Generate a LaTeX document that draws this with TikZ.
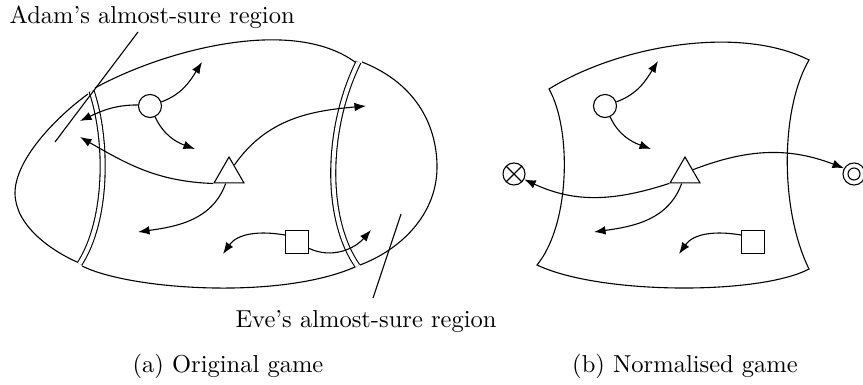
\documentclass[tikz,border=0pt]{standalone}
\usetikzlibrary{shapes.geometric,arrows.meta}
\begin{document}
\begin{tikzpicture}[x=0.408pt,y=0.408pt,
  line width=0.45pt,
  arr/.style={-{Latex[length=4.7pt,width=3.5pt]}},
  st/.style={draw,circle,minimum size=9.4pt,inner sep=0pt},
  tri/.style={draw,regular polygon,regular polygon sides=3,minimum size=14.1pt,inner sep=0pt},
  sq/.style={draw,rectangle,minimum size=9.4pt,inner sep=0pt},
  dbl/.style={double,double distance=1.6pt},
  lbl/.style={inner sep=0pt}]
\useasboundingbox (0,0) rectangle (863,-385);

% ---------- (a) original game ----------
\draw (88,-94) .. controls (55,-118) and (15,-160) .. (15,-193) .. controls (15,-225) and (50,-250) .. (77,-262);
\draw (95,-88) .. controls (160,-52) and (290,-15) .. (355,-62);
\draw (82,-266) .. controls (130,-290) and (280,-300) .. (355,-267);
\draw (362,-62) .. controls (420,-85) and (437,-130) .. (437,-167) .. controls (437,-215) and (400,-250) .. (360,-265);
\draw[dbl] (91.5,-91) .. controls (108,-140) and (108,-220) .. (79.5,-264);
\draw[dbl] (358.5,-62) .. controls (325,-130) and (325,-220) .. (357.5,-266);

\node[st] (c1) at (150,-106) {};
\node[tri] (t1) at (229,-174.3) {};
\node[sq] (s1) at (297,-242) {};

\coordinate (a1) at (202,-62);
\coordinate (a2) at (80,-121);
\coordinate (a3) at (195,-149);
\coordinate (a4) at (80,-137);
\coordinate (a5) at (366,-106);
\coordinate (a6) at (138,-232);
\coordinate (a7) at (223,-254);
\coordinate (a8) at (371,-230);

\draw[arr] (c1.20) to[out=20,in=238] (a1);
\draw[arr] (c1.175) to[out=180,in=25] (a2);
\draw[arr] (c1.-65) to[out=-65,in=160] (a3);
\draw[arr] (t1.corner 2) to[out=178,in=-30] (a4);
\draw[arr] (t1.60) to[out=55,in=185] (a5);
\draw[arr] (t1.-110) to[out=-110,in=8] (a6);
\draw[arr] (s1.150) to[out=170,in=55] (a7);
\draw[arr] (s1.-28) to[out=-25,in=229] (a8);

\coordinate (ad1) at (138,-32);
\coordinate (ad2) at (55,-142);
\draw (ad1) -- (ad2);
\coordinate (ev1) at (401,-214);
\coordinate (ev2) at (373,-298);
\draw (ev1) -- (ev2);

\node[lbl,anchor=base west] (adam) at (9,-24) {Adam's almost-sure region};
\node[lbl,anchor=base west] (eve) at (235,-328) {Eve's almost-sure region};
\node[lbl,anchor=base] (capa) at (228,-373) {(a) Original game};
\node[lbl,anchor=base] (capb) at (685,-373) {(b) Normalised game};

% ---------- (b) normalised game ----------
\draw (549,-89) .. controls (620,-45) and (740,-25) .. (809,-60)
  .. controls (780,-110) and (780,-210) .. (809,-269)
  .. controls (760,-295) and (600,-295) .. (537,-265)
  .. controls (570,-225) and (572,-130) .. (549,-89) -- cycle;

\node[st] (c2) at (605,-106) {};
\node[tri] (t2) at (685,-174.3) {};
\node[sq] (s2) at (753,-242) {};
\node[st,minimum size=9pt,path picture={\draw (path picture bounding box.north west) -- (path picture bounding box.south east) (path picture bounding box.north east) -- (path picture bounding box.south west);}] (x2) at (514,-174) {};
\node[st,minimum size=9pt,path picture={\draw (path picture bounding box.center) circle (2.45pt);}] (d2) at (854,-174) {};

\coordinate (b1) at (658,-61);
\coordinate (b2) at (651,-149);
\coordinate (b5) at (594,-232);
\coordinate (b6) at (679,-254);

\draw[arr] (c2.20) to[out=20,in=238] (b1);
\draw[arr] (c2.-65) to[out=-65,in=160] (b2);
\draw[arr] (t2.corner 2) to[out=198,in=-25] (x2.-28);
\draw[arr] (t2.30) to[out=21,in=159] (d2.150);
\draw[arr] (t2.-110) to[out=-110,in=8] (b5);
\draw[arr] (s2.150) to[out=170,in=55] (b6);
\end{tikzpicture}
\end{document}
